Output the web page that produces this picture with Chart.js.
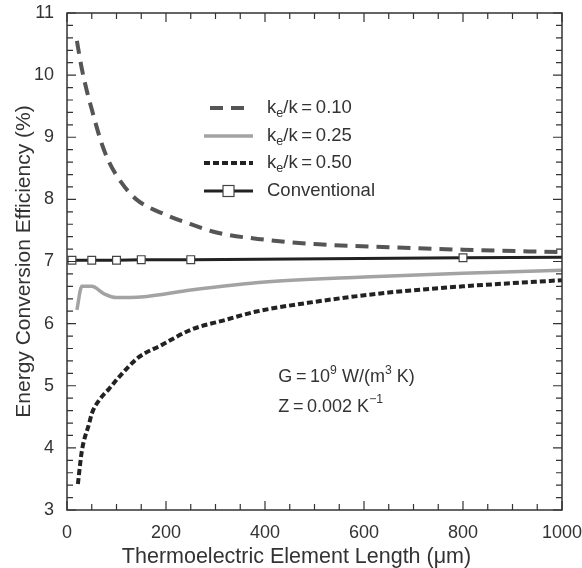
<!DOCTYPE html>
<html>
<head>
<meta charset="utf-8">
<script src="https://cdn.jsdelivr.net/npm/chart.js@4.4.0/dist/chart.umd.min.js"></script>
<style>
  html, body { margin: 0; padding: 0; background: #fff; }
  canvas { display: block; }
</style>
</head>
<body>
<canvas id="eff-chart" width="582" height="568"></canvas>
<script>
// ke/k = 0.10
const lenA = [20, 30, 40, 50, 70, 85, 110, 140, 200, 250, 300, 400, 500, 650, 800, 1000]
const effA = [10.55, 10.1, 9.75, 9.45, 8.9, 8.6, 8.27, 8.0, 7.75, 7.6, 7.47, 7.35, 7.28, 7.23, 7.19, 7.15]
// ke/k = 0.25
const lenB = [20, 30, 50, 75, 100, 150, 250, 400, 600, 800, 1000]
const effB = [6.22, 6.6, 6.6, 6.48, 6.42, 6.43, 6.54, 6.67, 6.75, 6.81, 6.86]
// ke/k = 0.50
const lenC = [22, 30, 45, 50, 70, 85, 105, 145, 190, 250, 320, 380, 500, 650, 800, 1000]
const effC = [3.42, 3.95, 4.4, 4.55, 4.82, 4.95, 5.14, 5.46, 5.65, 5.9, 6.06, 6.19, 6.35, 6.5, 6.6, 6.7]
// conventional
const lenD = [10, 50, 100, 150, 250, 800, 1000]
const effD = [7.02, 7.02, 7.02, 7.03, 7.03, 7.06, 7.07]
const markD = [true, true, true, true, true, true, false]

const legendSub = ["0.10", "0.25", "0.50"]
const xTicks = [0, 200, 400, 600, 800, 1000]
const yTicks = [3, 4, 5, 6, 7, 8, 9, 10, 11]
const xTitle = "Thermoelectric Element Length (\u03bcm)"

const FONT = "'Liberation Sans', Arial, sans-serif"
const pts = (xs, ys) => xs.map((x, i) => ({ x: x, y: ys[i] }))

// draw text pieces with super/subscripts, left aligned, middle baseline
function richText(ctx, x, y, parts, size) {
    ctx.textBaseline = "middle"
    ctx.textAlign = "left"
    for (const p of parts) {
        let s = p.s ? size * 0.68 : size
        let dy = p.s === "sup" ? -size * 0.38 : p.s === "sub" ? size * 0.3 : 0
        ctx.font = `${s}px ${FONT}`
        ctx.fillText(p.t, x, y + dy)
        x += ctx.measureText(p.t).width
    }
}

// keep the plot box where we put it (ignore tick label overhang)
function fixBox(size, key) {
    return s => {
        s[key] = size
        s.paddingTop = s.paddingBottom = s.paddingLeft = s.paddingRight = 0
    }
}

const framePlugin = {
    id: "frame",
    afterDraw(chart) {
        const ctx = chart.ctx
        const a = chart.chartArea
        const xs = chart.scales.x, ys = chart.scales.y
        ctx.save()
        ctx.strokeStyle = "#333"
        ctx.lineWidth = 1.5
        ctx.strokeRect(a.left, a.top, a.right - a.left, a.bottom - a.top)
        ctx.lineWidth = 1.2
        ctx.beginPath()
        for (let v = 0; v <= 1000; v += 50) {
            let px = xs.getPixelForValue(v)
            let len = v % 200 === 0 ? 9 : 6
            ctx.moveTo(px, a.bottom); ctx.lineTo(px, a.bottom - len)
            ctx.moveTo(px, a.top); ctx.lineTo(px, a.top + len)
        }
        for (let i = 0; i <= 40; i++) {
            let v = 3 + i * 0.2
            let py = ys.getPixelForValue(v)
            let len = i % 5 === 0 ? 9 : 6
            ctx.moveTo(a.left, py); ctx.lineTo(a.left + len, py)
            ctx.moveTo(a.right, py); ctx.lineTo(a.right - len, py)
        }
        ctx.stroke()

        // x axis title, sits a bit left of centre in the original
        ctx.fillStyle = "#333"
        ctx.font = `21.5px ${FONT}`
        ctx.textAlign = "center"
        ctx.textBaseline = "middle"
        ctx.fillText(xTitle, (a.left + a.right) / 2 - 18, 557)

        // legend
        const rowY = [108, 136, 163, 191]
        chart.data.datasets.forEach((ds, i) => {
            let y = rowY[i]
            ctx.strokeStyle = ds.borderColor
            ctx.lineWidth = ds.borderWidth
            ctx.setLineDash(ds.borderDash || [])
            ctx.beginPath()
            ctx.moveTo(i === 0 ? 210 : 204, y); ctx.lineTo(i === 0 ? 247 : 253, y)
            ctx.stroke()
            ctx.setLineDash([])
            if (i === 3) {
                ctx.fillStyle = "#fff"
                ctx.strokeStyle = "#444"
                ctx.lineWidth = 1.2
                ctx.fillRect(223, y - 5.5, 11, 11)
                ctx.strokeRect(223, y - 5.5, 11, 11)
                ctx.fillStyle = "#333"
                richText(ctx, 267, y, [{ t: "Conventional" }], 18.5)
            } else {
                richText(ctx, 267, y, [{ t: "k" }, { t: "e", s: "sub" }, { t: "/k\u2009=\u2009" + legendSub[i] }], 18.5)
            }
        })

        // annotation
        let ax = xs.getPixelForValue(427)
        richText(ctx, ax, ys.getPixelForValue(5.14), [
            { t: "G\u2009=\u200910" }, { t: "9", s: "sup" }, { t: " W/(m" }, { t: "3", s: "sup" }, { t: " K)" }], 18)
        richText(ctx, ax, ys.getPixelForValue(4.66), [
            { t: "Z\u2009=\u20090.002 K" }, { t: "\u22121", s: "sup" }], 18)
        ctx.restore()
    }
}

new Chart(document.getElementById("eff-chart"), {
    type: "line",
    data: {
        datasets: [{
            label: "ke/k=0.10",
            data: pts(lenA, effA),
            borderColor: "#555",
            borderWidth: 4,
            borderDash: [13, 8],
            pointRadius: 0,
            cubicInterpolationMode: "monotone",
        }, {
            label: "ke/k=0.25",
            data: pts(lenB, effB),
            borderColor: "#a3a3a3",
            borderWidth: 3.5,
            pointRadius: 0,
            cubicInterpolationMode: "monotone",
        }, {
            label: "ke/k=0.50",
            data: pts(lenC, effC),
            borderColor: "#222",
            borderWidth: 4,
            borderDash: [6, 3],
            pointRadius: 0,
            cubicInterpolationMode: "monotone",
        }, {
            label: "Conventional",
            data: pts(lenD, effD),
            borderColor: "#222",
            borderWidth: 3,
            pointStyle: "rect",
            pointRadius: markD.map(m => m ? 5.5 : 0),
            pointBackgroundColor: "#fff",
            pointBorderColor: "#444",
            pointBorderWidth: 1.2,
        }],
    },
    options: {
        responsive: false,
        animation: false,
        events: [],
        layout: { padding: { top: 13, right: 20, left: 0, bottom: 0 } },
        plugins: { legend: { display: false }, tooltip: { enabled: false } },
        scales: {
            x: {
                type: "linear",
                min: 0,
                max: 1000,
                afterFit: fixBox(58, "height"),
                afterBuildTicks: s => { s.ticks = xTicks.map(v => ({ value: v })) },
                grid: { display: false, drawTicks: false },
                border: { display: false },
                ticks: { padding: 12, color: "#333", font: { family: FONT, size: 18 }, callback: v => String(v) },
            },
            y: {
                min: 3,
                max: 11,
                afterFit: fixBox(67, "width"),
                afterBuildTicks: s => { s.ticks = yTicks.map(v => ({ value: v })) },
                grid: { display: false, drawTicks: false },
                border: { display: false },
                ticks: { padding: 13, color: "#333", font: { family: FONT, size: 18 }, callback: v => String(v) },
                title: {
                    display: true,
                    text: "Energy Conversion Efficiency (%)",
                    color: "#333",
                    padding: { top: 12, bottom: 0 },
                    font: { family: FONT, size: 21 },
                },
            },
        },
    },
    plugins: [framePlugin],
});
</script>
</body>
</html>
